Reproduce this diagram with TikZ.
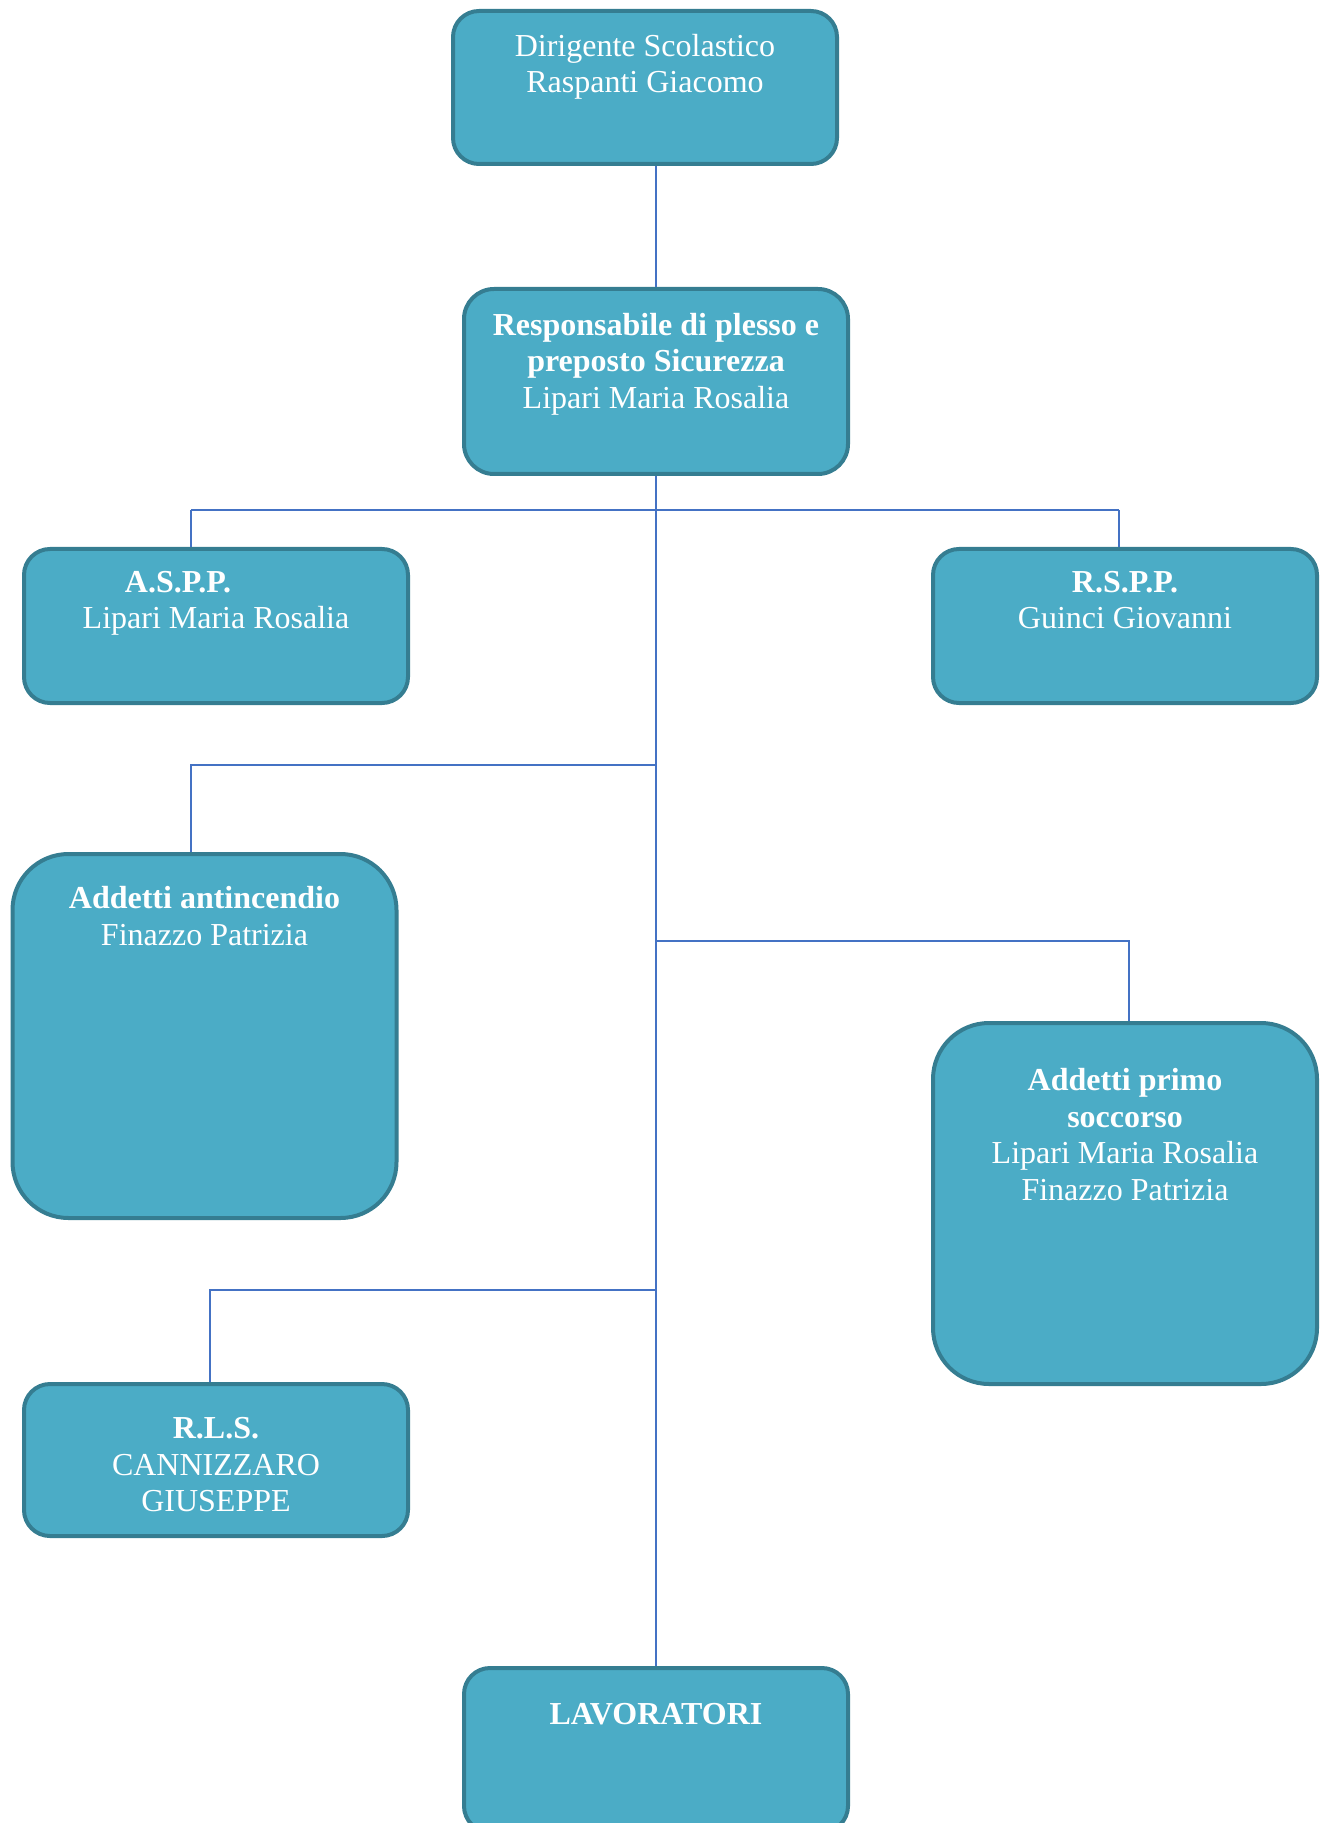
\documentclass[tikz,border=0pt]{standalone}
\usepackage{fontspec}
\setmainfont{Liberation Serif}
\usepackage{tikz}

\definecolor{boxfill}{HTML}{4BACC6}
\definecolor{boxline}{HTML}{357D91}
\definecolor{wireblue}{HTML}{4472C4}

% box text: height, top pad, lines
\newcommand{\boxtxt}[3]{\parbox[c][#1][t]{192pt}{\centering\vspace*{#2}#3}}

\begin{document}
\begin{tikzpicture}[x=0.5pt,y=-0.5pt]
            \tikzstyle{orgbox}=[draw=boxline,fill=boxfill,line width=2pt,rounded corners=13pt,inner sep=0pt,text=white,font=\fontsize{16}{18.4}\selectfont]
            \tikzstyle{wire}=[draw=wireblue,line width=1pt]
            \useasboundingbox (0,0) rectangle (1322,1823);

            \node[orgbox] (O-dir) at (645,87.5) {\boxtxt{76.5pt}{11.5pt}{Dirigente Scolastico\\Raspanti Giacomo}};
            \node[orgbox,rounded corners=15pt] (O-resp) at (656,381.5) {\boxtxt{92.5pt}{12pt}{\textbf{Responsabile di plesso e}\\\textbf{preposto Sicurezza}\\Lipari Maria Rosalia}};
            \node[orgbox] (O-aspp) at (216,626) {\boxtxt{77pt}{11pt}{\textbf{A.S.P.P.}\hspace{38pt}\mbox{}\\Lipari Maria Rosalia}};
            \node[orgbox] (O-rspp) at (1125,626) {\boxtxt{77pt}{11pt}{\textbf{R.S.P.P.}\\Guinci Giovanni}};
            \node[orgbox,rounded corners=28pt] (O-fire) at (204.5,1036) {\boxtxt{182pt}{16pt}{\textbf{Addetti antincendio}\\Finazzo Patrizia}};
            \node[orgbox,rounded corners=28pt] (O-aid) at (1125,1203.5) {\boxtxt{180.5pt}{22.5pt}{\textbf{Addetti primo}\\\textbf{soccorso}\\Lipari Maria Rosalia\\Finazzo Patrizia}};
            \node[orgbox] (O-rls) at (216,1460) {\boxtxt{76pt}{16.5pt}{\textbf{R.L.S.}\\CANNIZZARO\\GIUSEPPE}};
            \node[orgbox] (O-lav) at (656,1750) {\boxtxt{82pt}{17.5pt}{\textbf{LAVORATORI}}};

            \coordinate (bar-l) at (191,510);
            \coordinate (bar-r) at (1119,510);
            \coordinate (fire-j) at (191,765);
            \coordinate (aid-j) at (1129,941);
            \coordinate (rls-j) at (210,1290);

            \draw[wire] (O-resp.north) -- (O-resp.north |- O-dir.south);
            \draw[wire] (O-resp.south) -- (O-lav.north);
            \draw[wire] (bar-l) -- (bar-r);
            \draw[wire] (bar-l) -- (bar-l |- O-aspp.north);
            \draw[wire] (bar-r) -- (bar-r |- O-rspp.north);
            \draw[wire] (O-resp.south |- fire-j) -- (fire-j) -- (fire-j |- O-fire.north);
            \draw[wire] (O-resp.south |- aid-j) -- (aid-j) -- (aid-j |- O-aid.north);
            \draw[wire] (O-resp.south |- rls-j) -- (rls-j) -- (rls-j |- O-rls.north);
        \end{tikzpicture}
\end{document}
